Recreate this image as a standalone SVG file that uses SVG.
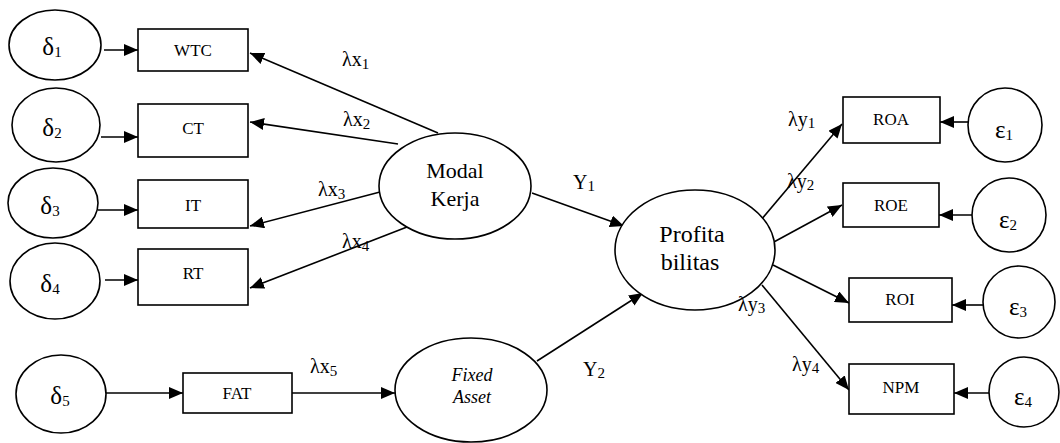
<svg xmlns="http://www.w3.org/2000/svg" width="1060" height="443" viewBox="0 0 1060 443">
<style>
.sh{fill:#fff;stroke:#000;stroke-width:1.6}
.cn line{stroke:#000;stroke-width:1.6}
text{font-family:"Liberation Serif","Times New Roman",serif;fill:#000}
.bl{font-size:17px;text-anchor:middle}
.gr{font-size:25px;text-anchor:middle}
.lb{font-size:20px}
.lv{font-size:22px;text-anchor:middle}
.sub{font-size:15px}
</style>
<defs>
<marker id="ah" viewBox="0 0 14 12" refX="14" refY="6" markerWidth="14" markerHeight="12" markerUnits="userSpaceOnUse" orient="auto">
<path d="M0,0 L14,6 L0,12 Z" fill="#000"/>
</marker>
</defs>
<rect width="1060" height="443" fill="#fff"/>

<g id="connectors" class="cn">
<line x1="104" y1="50" x2="138" y2="50" marker-end="url(#ah)"/>
<line x1="101" y1="137" x2="138" y2="137" marker-end="url(#ah)"/>
<line x1="98" y1="210" x2="138" y2="210" marker-end="url(#ah)"/>
<line x1="105" y1="280" x2="138" y2="280" marker-end="url(#ah)"/>
<line x1="106" y1="393" x2="183" y2="393" marker-end="url(#ah)"/>
<line x1="292" y1="393" x2="395" y2="393" marker-end="url(#ah)"/>
<line x1="438" y1="133" x2="250" y2="53" marker-end="url(#ah)"/>
<line x1="398" y1="144" x2="250" y2="122" marker-end="url(#ah)"/>
<line x1="380" y1="192" x2="250" y2="226" marker-end="url(#ah)"/>
<line x1="407" y1="227" x2="250" y2="288" marker-end="url(#ah)"/>
<line x1="532" y1="193" x2="624" y2="226" marker-end="url(#ah)"/>
<line x1="537" y1="361" x2="643" y2="293" marker-end="url(#ah)"/>
<line x1="761" y1="220" x2="842" y2="124" marker-end="url(#ah)"/>
<line x1="772" y1="243" x2="842" y2="205" marker-end="url(#ah)"/>
<line x1="773" y1="265" x2="849" y2="303" marker-end="url(#ah)"/>
<line x1="762" y1="285" x2="849" y2="390" marker-end="url(#ah)"/>
<line x1="968" y1="122" x2="940" y2="122" marker-end="url(#ah)"/>
<line x1="973" y1="215" x2="939" y2="215" marker-end="url(#ah)"/>
<line x1="983" y1="305" x2="952" y2="305" marker-end="url(#ah)"/>
<line x1="989" y1="393" x2="954" y2="393" marker-end="url(#ah)"/>
</g>

<g id="d1"><ellipse class="sh" cx="55" cy="45" rx="46" ry="35"/><text class="gr" x="52" y="55">δ<tspan class="sub" dy="2">1</tspan></text></g>
<g id="d2"><ellipse class="sh" cx="56" cy="125" rx="44" ry="37"/><text class="gr" x="52" y="136">δ<tspan class="sub" dy="2">2</tspan></text></g>
<g id="d3"><ellipse class="sh" cx="53" cy="203" rx="45" ry="35"/><text class="gr" x="50" y="214">δ<tspan class="sub" dy="2">3</tspan></text></g>
<g id="d4"><ellipse class="sh" cx="55" cy="281" rx="45" ry="38"/><text class="gr" x="50" y="292">δ<tspan class="sub" dy="2">4</tspan></text></g>
<g id="d5"><ellipse class="sh" cx="61" cy="394" rx="45" ry="39"/><text class="gr" x="60" y="404">δ<tspan class="sub" dy="2">5</tspan></text></g>

<g id="wtc"><rect class="sh" x="138" y="29" width="110" height="42"/><text class="bl" x="193" y="56">WTC</text></g>
<g id="ct"><rect class="sh" x="138" y="104" width="110" height="53"/><text class="bl" x="193" y="134">CT</text></g>
<g id="it"><rect class="sh" x="138" y="180" width="110" height="48"/><text class="bl" x="193" y="211">IT</text></g>
<g id="rt"><rect class="sh" x="138" y="249" width="110" height="56"/><text class="bl" x="193" y="279">RT</text></g>
<g id="fat"><rect class="sh" x="183" y="373" width="109" height="40"/><text class="bl" x="237" y="399">FAT</text></g>

<g id="modal"><ellipse class="sh" cx="455" cy="186" rx="76" ry="53"/><text class="lv" x="455" y="178">Modal</text><text class="lv" x="455" y="206">Kerja</text></g>
<g id="fixed"><ellipse class="sh" cx="471" cy="390" rx="76" ry="52"/><text x="472" y="381" style="font-size:18px;font-style:italic;text-anchor:middle">Fixed</text><text x="472" y="403" style="font-size:18px;font-style:italic;text-anchor:middle">Asset</text></g>
<g id="profit"><ellipse class="sh" cx="695" cy="250" rx="80" ry="60"/><text class="lv" x="692" y="242" style="font-size:24px">Profita</text><text class="lv" x="690" y="270" style="font-size:24px">bilitas</text></g>

<g id="roa"><rect class="sh" x="843" y="97" width="97" height="46"/><text class="bl" x="891" y="125">ROA</text></g>
<g id="roe"><rect class="sh" x="843" y="183" width="96" height="44"/><text class="bl" x="891" y="211">ROE</text></g>
<g id="roi"><rect class="sh" x="849" y="278" width="103" height="44"/><text class="bl" x="900" y="305">ROI</text></g>
<g id="npm"><rect class="sh" x="849" y="364" width="105" height="50"/><text class="bl" x="901" y="393">NPM</text></g>

<g id="e1"><circle class="sh" cx="1005" cy="125" r="37"/><text class="gr" x="1004" y="138">ε<tspan class="sub" dy="2">1</tspan></text></g>
<g id="e2"><circle class="sh" cx="1009" cy="215" r="37"/><text class="gr" x="1008" y="228">ε<tspan class="sub" dy="2">2</tspan></text></g>
<g id="e3"><circle class="sh" cx="1019" cy="302" r="36"/><text class="gr" x="1018" y="315">ε<tspan class="sub" dy="2">3</tspan></text></g>
<g id="e4"><circle class="sh" cx="1024" cy="392" r="35"/><text class="gr" x="1023" y="405">ε<tspan class="sub" dy="2">4</tspan></text></g>

<g id="labels">
<text class="lb" x="342" y="66">λx<tspan class="sub" dy="3">1</tspan></text>
<text class="lb" x="343" y="126">λx<tspan class="sub" dy="3">2</tspan></text>
<text class="lb" x="318" y="196">λx<tspan class="sub" dy="3">3</tspan></text>
<text class="lb" x="342" y="248">λx<tspan class="sub" dy="3">4</tspan></text>
<text class="lb" x="310" y="373">λx<tspan class="sub" dy="3">5</tspan></text>
<text class="lb" x="573" y="189">Y<tspan class="sub" dy="2">1</tspan></text>
<text class="lb" x="583" y="376">Y<tspan class="sub" dy="2">2</tspan></text>
<text class="lb" x="788" y="126">λy<tspan class="sub" dy="2">1</tspan></text>
<text class="lb" x="787" y="188">λy<tspan class="sub" dy="2">2</tspan></text>
<text class="lb" x="738" y="311">λy<tspan class="sub" dy="2">3</tspan></text>
<text class="lb" x="792" y="371">λy<tspan class="sub" dy="2">4</tspan></text>
</g>
</svg>
